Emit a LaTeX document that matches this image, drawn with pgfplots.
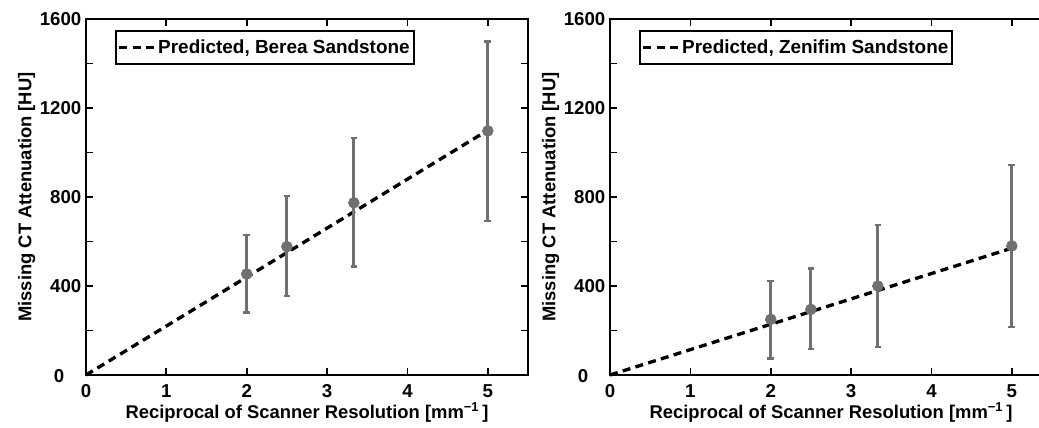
\documentclass[border=0pt]{standalone}
\usepackage{fontspec}
\setmainfont{Liberation Sans}
\usepackage{pgfplots}
\usepackage{pgfplotstable}
\pgfplotsset{compat=1.18}
\definecolor{ebar}{RGB}{112,112,112}

\newcommand{\lf}{\fontsize{13.8}{15}\selectfont\bfseries}
\newcommand{\tf}{\fontsize{14}{16}\selectfont\bfseries}
\newcommand{\gf}{\fontsize{14.2}{16}\selectfont\bfseries}

\pgfplotstableread{
x     y     ep    em
2     454   174   174
2.5   577   227   223
3.333 774   290   286
5     1097  401   405
}\bereadata

\pgfplotstableread{
x     y     ep    em
2     250   172   176
2.5   295   184   178
3.333 400   274   274
5     580   364   363
}\zenifimdata

\pgfplotsset{myaxis/.style={
  scale only axis, width=331.5pt, height=267pt,
  xmin=0, xmax=5.5, ymin=0, ymax=1600,
  xtick={0,1,...,5}, ytick={400,800,...,1600},
  minor ytick={200,600,1000,1400},
  extra y ticks={0},
  extra y tick style={yticklabel style={xshift=-12.75pt, yshift=-1pt}},
  tick align=inside, major tick length=5pt, minor tick length=5pt,
  axis line style={line width=2.2pt},
  every tick/.style={line width=1.3pt, black},
  /pgf/number format/assume math mode=true,
  /pgf/number format/1000 sep={},
  ticklabel style={font=\tf},
  xticklabel style={yshift=-3.5pt},
  label style={font=\lf},
  xlabel={Reciprocal of Scanner Resolution [mm\textsuperscript{−1}\,]},
  ylabel={Missing CT Attenuation [HU]},
  xlabel style={at={(axis description cs:0.5,-0.104)}, anchor=center},
  ylabel style={at={(axis description cs:-0.134,0.5)}, anchor=center},
  legend style={at={(axis description cs:0.066,0.969)}, anchor=north west,
    draw=black, line width=1.6pt, font=\gf, inner xsep=1pt, inner ysep=4.5pt,
    legend cell align=left},
  legend image code/.code={\draw[#1] (0pt,0pt) -- (26pt,0pt);},
  clip=false,
}}

\begin{document}
\begin{tikzpicture}
\begin{axis}[myaxis, at={(64.5pt,39.75pt)}, anchor=south west]
\addplot[black, line width=2.5pt, dash pattern=on 6pt off 4pt] coordinates {(0,0) (5,1100)};
\addlegendentry{Predicted, Berea Sandstone\hspace{6pt}}
\addplot[forget plot, only marks, mark=*, ebar, mark size=4.1pt,
  mark options={fill=ebar, draw=ebar},
  error bars/.cd, y dir=both, y explicit,
  error bar style={line width=2.2pt, ebar},
  error mark=|, error mark options={mark size=2.5pt, line width=1.8pt, ebar}]
  table[x=x, y=y, y error plus=ep, y error minus=em] {\bereadata};
\end{axis}
\begin{axis}[myaxis, at={(457.5pt,39.75pt)}, anchor=south west]
\addplot[black, line width=2.5pt, dash pattern=on 6pt off 4pt] coordinates {(0,0) (5,570)};
\addlegendentry{Predicted, Zenifim Sandstone\hspace{6pt}}
\addplot[forget plot, only marks, mark=*, ebar, mark size=4.1pt,
  mark options={fill=ebar, draw=ebar},
  error bars/.cd, y dir=both, y explicit,
  error bar style={line width=2.2pt, ebar},
  error mark=|, error mark options={mark size=2.5pt, line width=1.8pt, ebar}]
  table[x=x, y=y, y error plus=ep, y error minus=em] {\zenifimdata};
\end{axis}
\pgfresetboundingbox
\useasboundingbox (0,0) rectangle (779.25pt,321pt);
\end{tikzpicture}
\end{document}
